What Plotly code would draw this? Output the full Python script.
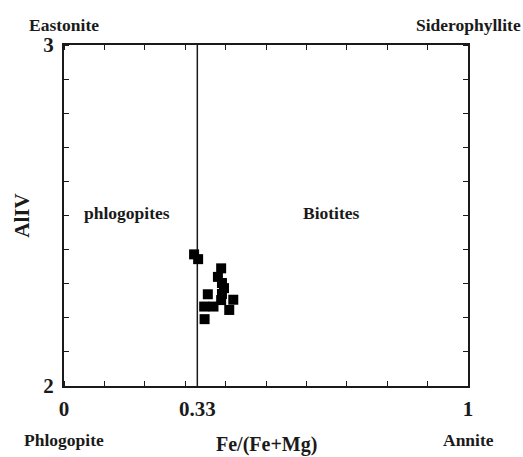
import plotly.graph_objects as go

# Data (Fe/(Fe+Mg) vs AlIV)
fe_ratio = [0.322, 0.332, 0.389, 0.381, 0.391, 0.396, 0.391, 0.389,
            0.356, 0.419, 0.347, 0.370, 0.409, 0.348]
al_iv = [2.386, 2.372, 2.345, 2.320, 2.302, 2.287, 2.270, 2.252,
         2.269, 2.253, 2.233, 2.233, 2.223, 2.196]

divider_x = 0.33
x_ticks = [0, 0.33, 1]
x_tick_text = ["0", "0.33", "1"]
y_ticks = [2, 3]
y_tick_text = ["2", "3"]

FONT = "Liberation Serif"
INK = "#1a1a1a"

fig = go.Figure()
fig.add_trace(go.Scatter(
    x=[divider_x, divider_x], y=[2, 3], mode="lines",
    line=dict(color=INK, width=1.5), showlegend=False, hoverinfo="skip"))
fig.add_trace(go.Scatter(
    x=fe_ratio, y=al_iv, mode="markers",
    marker=dict(symbol="square", size=10, color="black", line=dict(width=0)),
    showlegend=False))

axis_common = dict(
    showgrid=False, zeroline=False, showline=True, linecolor=INK, linewidth=2,
    mirror="allticks", ticks="",
    minor=dict(dtick=0.1, ticks="inside", ticklen=5, tickwidth=1, tickcolor=INK),
    tickfont=dict(family=FONT, size=21, color=INK, weight="bold"),
)

fig.update_layout(
    width=523, height=457,
    margin=dict(l=64, r=55, t=45, b=71),
    paper_bgcolor="white", plot_bgcolor="white",
    xaxis=dict(range=[0, 1], tickvals=x_ticks, ticktext=x_tick_text,
               tick0=0, ticklabelstandoff=3, **axis_common),
    yaxis=dict(range=[2, 3], tickvals=y_ticks, ticktext=y_tick_text,
               tick0=2, ticklabelstandoff=4, **axis_common),
)

def lab(text, x, y, size, xref="paper", yref="paper", angle=0):
    fig.add_annotation(text="<b>" + text + "</b>", x=x, y=y, xref=xref, yref=yref,
                       showarrow=False, xanchor="center", yanchor="middle",
                       textangle=angle,
                       font=dict(family=FONT, size=size, color=INK))

lab("Eastonite", 0.0, 1.058, 17.5)
lab("Siderophyllite", 1.0, 1.058, 17.5)
lab("Phlogopite", 0.0, -0.157, 17.5)
lab("Annite", 1.0, -0.157, 17.5)
lab("Fe/(Fe+Mg)", 0.5, -0.172, 20)
lab("AlIV", -0.106, 0.5, 21, angle=-90)
lab("phlogopites", 0.156, 2.507, 17.5, xref="x", yref="y")
lab("Biotites", 0.661, 2.507, 17.5, xref="x", yref="y")

fig.write_html("out.html")
